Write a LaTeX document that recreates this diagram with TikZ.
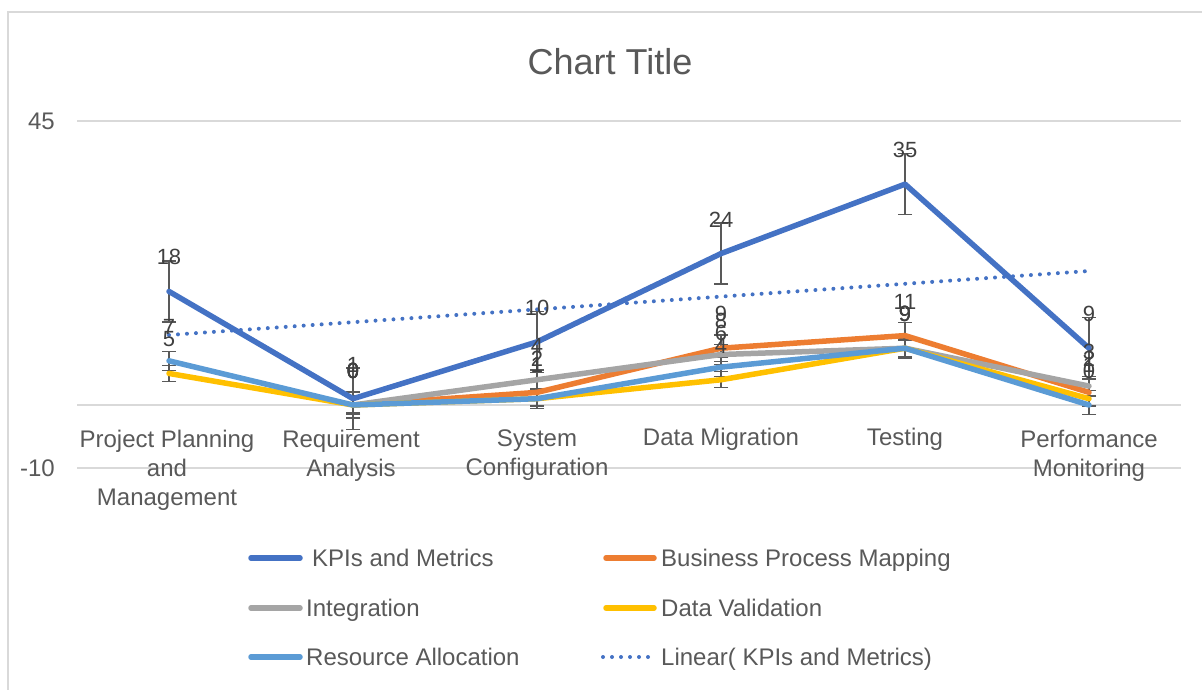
\documentclass[tikz,border=0pt]{standalone}
\usepackage{fontspec}
\setmainfont{Liberation Sans}
\usetikzlibrary{arrows.meta}

\definecolor{kpiblue}{HTML}{4472C4}
\definecolor{bpmorange}{HTML}{ED7D31}
\definecolor{intgray}{HTML}{A5A5A5}
\definecolor{valyellow}{HTML}{FFC000}
\definecolor{resblue}{HTML}{5B9BD5}
\definecolor{gridgray}{HTML}{D9D9D9}
\definecolor{textgray}{HTML}{595959}
\definecolor{lblgray}{HTML}{404040}

\begin{document}
\begin{tikzpicture}[x=1pt,y=-1pt,
  series/.style={line width=5.5pt, line cap=round, line join=round},
  trend/.style={kpiblue, line width=4pt, line cap=round, dash pattern=on 0pt off 9pt},
  gridline/.style={gridgray, line width=1.5pt},
  errbar/.style={textgray, line width=1.4pt, {Bar[width=14pt]}-{Bar[width=14pt]}},
  dlabel/.style={lblgray, font=\fontsize{22}{26}\selectfont, inner sep=0pt},
  axistext/.style={textgray, font=\fontsize{24}{29}\selectfont, inner sep=0pt}]
\useasboundingbox (0,0) rectangle (1202,690);

% chart frame
\draw[gridline] (8,690) -- (8,12) -- (1202,12);

\node[textgray, font=\fontsize{36}{40}\selectfont, inner sep=0pt] (title) at (610,62) {Chart Title};

\node[axistext, anchor=east] (t45) at (55,121) {45};
\node[axistext, anchor=east] (tm10) at (55,468) {-10};

\begin{scope}[x=184pt, y=6.31pt, shift={(169pt,-405pt)}]
% gridlines
\draw[gridline] (-0.5,45) -- (5.5,45);
\draw[gridline] (-0.5,0) -- (5.5,0);
\draw[gridline] (-0.5,-10) -- (5.5,-10);

% categories
\node[axistext, align=center, anchor=north, yshift=-25pt, xshift=-2pt] (cat0) at (0,0) {Project Planning\\and\\Management};
\node[axistext, align=center, anchor=north, yshift=-25pt, xshift=-2pt] (cat1) at (1,0) {Requirement\\Analysis};
\node[axistext, align=center, anchor=north, yshift=-25pt] (cat2) at (2,0) {System\\Configuration};
\node[axistext, align=center, anchor=north, yshift=-23pt] (cat3) at (3,0) {Data Migration};
\node[axistext, align=center, anchor=north, yshift=-23pt] (cat4) at (4,0) {Testing};
\node[axistext, align=center, anchor=north, yshift=-25pt] (cat5) at (5,0) {Performance\\Monitoring};

% error bars (standard error)
\foreach \i/\v in {0/18,1/1,2/10,3/24,4/35,5/9}
  \draw[errbar] (\i,\v-4.963) -- (\i,\v+4.963);
\foreach \i/\v in {1/0,2/2,3/9,4/11,5/2}
  \draw[errbar] (\i,\v-2.177) -- (\i,\v+2.177);
\foreach \i/\v in {1/0,2/4,3/8,4/9,5/3}
  \draw[errbar] (\i,\v-1.655) -- (\i,\v+1.655);
\foreach \i/\v in {0/5,1/0,2/1,3/4,4/9,5/1}
  \draw[errbar] (\i,\v-1.382) -- (\i,\v+1.382);
\foreach \i/\v in {0/7,1/0,2/1,3/6,4/9,5/0}
  \draw[errbar] (\i,\v-1.621) -- (\i,\v+1.621);

% series
\draw[series, kpiblue] (0,18) -- (1,1) -- (2,10) -- (3,24) -- (4,35) -- (5,9);
\draw[series, bpmorange] (1,0) -- (2,2) -- (3,9) -- (4,11) -- (5,2);
\draw[series, intgray] (1,0) -- (2,4) -- (3,8) -- (4,9) -- (5,3);
\draw[series, valyellow] (0,5) -- (1,0) -- (2,1) -- (3,4) -- (4,9) -- (5,1);
\draw[series, resblue] (0,7) -- (1,0) -- (2,1) -- (3,6) -- (4,9) -- (5,0);
\draw[trend] (0,11.095) -- (5,21.238);

% data labels
\foreach \i/\v in {0/18,1/1,2/10,3/24,4/35,5/9}
  \node[dlabel, yshift=34pt] (kpi\i) at (\i,\v) {\v};
\foreach \i/\v in {1/0,2/2,3/9,4/11,5/2}
  \node[dlabel, yshift=34pt] (bpm\i) at (\i,\v) {\v};
\foreach \i/\v in {1/0,2/4,3/8,4/9,5/3}
  \node[dlabel, yshift=34pt] (int\i) at (\i,\v) {\v};
\foreach \i/\v in {0/5,1/0,2/1,3/4,4/9,5/1}
  \node[dlabel, yshift=34pt] (val\i) at (\i,\v) {\v};
\foreach \i/\v in {0/7,1/0,2/1,3/6,4/9,5/0}
  \node[dlabel, yshift=34pt] (res\i) at (\i,\v) {\v};
\end{scope}

% legend
\draw[series, kpiblue] (251,558) -- (300,558);
\node[axistext, anchor=base west] (leg-kpi) at (312,566) {KPIs and Metrics};
\draw[series, bpmorange] (606,558) -- (654,558);
\node[axistext, anchor=base west] (leg-bpm) at (661,566) {Business Process Mapping};
\draw[series, intgray] (251,608) -- (300,608);
\node[axistext, anchor=base west] (leg-int) at (306,616) {Integration};
\draw[series, valyellow] (606,608) -- (654,608);
\node[axistext, anchor=base west] (leg-val) at (661,616) {Data Validation};
\draw[series, resblue] (251,657) -- (300,657);
\node[axistext, anchor=base west] (leg-res) at (306,665) {Resource Allocation};
\draw[trend] (603,657) -- (648.5,657);
\node[axistext, anchor=base west] (leg-lin) at (661,665) {Linear( KPIs and Metrics)};
\end{tikzpicture}
\end{document}
